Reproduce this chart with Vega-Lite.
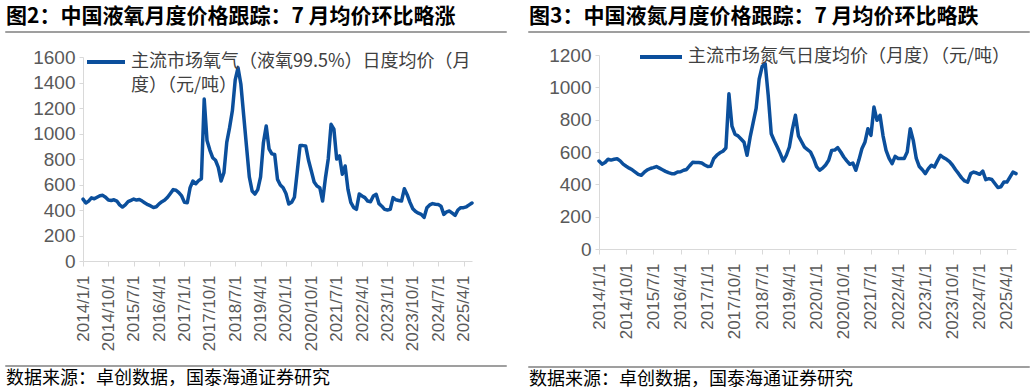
{
  "$schema": "https://vega.github.io/schema/vega-lite/v6.json",
  "background": "white",
  "datasets": {
    "p": [
      {"m":"2014/1/1","o":485,"n":544},{"m":"2014/2/1","o":455,"n":525},{"m":"2014/3/1","o":470,"n":535},{"m":"2014/4/1","o":495,"n":555},{"m":"2014/5/1","o":488,"n":550},{"m":"2014/6/1","o":500,"n":555},{"m":"2014/7/1","o":512,"n":558},{"m":"2014/8/1","o":515,"n":545},{"m":"2014/9/1","o":500,"n":525},{"m":"2014/10/1","o":478,"n":512},{"m":"2014/11/1","o":475,"n":500},{"m":"2014/12/1","o":480,"n":490},
      {"m":"2015/1/1","o":470,"n":476},{"m":"2015/2/1","o":440,"n":462},{"m":"2015/3/1","o":423,"n":456},{"m":"2015/4/1","o":440,"n":475},{"m":"2015/5/1","o":465,"n":490},{"m":"2015/6/1","o":475,"n":498},{"m":"2015/7/1","o":486,"n":503},{"m":"2015/8/1","o":478,"n":510},{"m":"2015/9/1","o":482,"n":500},{"m":"2015/10/1","o":470,"n":490},{"m":"2015/11/1","o":455,"n":480},{"m":"2015/12/1","o":442,"n":472},
      {"m":"2016/1/1","o":432,"n":466},{"m":"2016/2/1","o":420,"n":466},{"m":"2016/3/1","o":425,"n":476},{"m":"2016/4/1","o":448,"n":478},{"m":"2016/5/1","o":465,"n":487},{"m":"2016/6/1","o":478,"n":492},{"m":"2016/7/1","o":500,"n":515},{"m":"2016/8/1","o":530,"n":536},{"m":"2016/9/1","o":560,"n":535},{"m":"2016/10/1","o":555,"n":535},{"m":"2016/11/1","o":536,"n":532},{"m":"2016/12/1","o":510,"n":520},
      {"m":"2017/1/1","o":460,"n":510},{"m":"2017/2/1","o":457,"n":512},{"m":"2017/3/1","o":575,"n":560},{"m":"2017/4/1","o":627,"n":580},{"m":"2017/5/1","o":606,"n":595},{"m":"2017/6/1","o":630,"n":605},{"m":"2017/7/1","o":645,"n":625},{"m":"2017/8/1","o":1270,"n":960},{"m":"2017/9/1","o":945,"n":760},{"m":"2017/10/1","o":870,"n":710},{"m":"2017/11/1","o":810,"n":700},{"m":"2017/12/1","o":790,"n":680},
      {"m":"2018/1/1","o":735,"n":660},{"m":"2018/2/1","o":627,"n":580},{"m":"2018/3/1","o":693,"n":690},{"m":"2018/4/1","o":930,"n":780},{"m":"2018/5/1","o":1046,"n":870},{"m":"2018/6/1","o":1180,"n":1050},{"m":"2018/7/1","o":1420,"n":1130},{"m":"2018/8/1","o":1516,"n":1146},{"m":"2018/9/1","o":1388,"n":950},{"m":"2018/10/1","o":1143,"n":713},{"m":"2018/11/1","o":900,"n":670},{"m":"2018/12/1","o":660,"n":631},
      {"m":"2019/1/1","o":549,"n":590},{"m":"2019/2/1","o":525,"n":544},{"m":"2019/3/1","o":560,"n":580},{"m":"2019/4/1","o":660,"n":631},{"m":"2019/5/1","o":928,"n":740},{"m":"2019/6/1","o":1059,"n":827},{"m":"2019/7/1","o":880,"n":700},{"m":"2019/8/1","o":840,"n":665},{"m":"2019/9/1","o":835,"n":630},{"m":"2019/10/1","o":640,"n":615},{"m":"2019/11/1","o":596,"n":600},{"m":"2019/12/1","o":575,"n":560},
      {"m":"2020/1/1","o":530,"n":510},{"m":"2020/2/1","o":447,"n":487},{"m":"2020/3/1","o":460,"n":500},{"m":"2020/4/1","o":500,"n":520},{"m":"2020/5/1","o":700,"n":549},{"m":"2020/6/1","o":905,"n":610},{"m":"2020/7/1","o":905,"n":612},{"m":"2020/8/1","o":902,"n":627},{"m":"2020/9/1","o":790,"n":600},{"m":"2020/10/1","o":706,"n":569},{"m":"2020/11/1","o":620,"n":545},{"m":"2020/12/1","o":588,"n":524},
      {"m":"2021/1/1","o":575,"n":532},{"m":"2021/2/1","o":470,"n":487},{"m":"2021/3/1","o":650,"n":550},{"m":"2021/4/1","o":800,"n":620},{"m":"2021/5/1","o":1072,"n":660},{"m":"2021/6/1","o":1035,"n":744},{"m":"2021/7/1","o":800,"n":703},{"m":"2021/8/1","o":824,"n":878},{"m":"2021/9/1","o":680,"n":796},{"m":"2021/10/1","o":745,"n":827},{"m":"2021/11/1","o":562,"n":700},{"m":"2021/12/1","o":460,"n":610},
      {"m":"2022/1/1","o":420,"n":560},{"m":"2022/2/1","o":405,"n":528},{"m":"2022/3/1","o":525,"n":573},{"m":"2022/4/1","o":510,"n":560},{"m":"2022/5/1","o":497,"n":560},{"m":"2022/6/1","o":470,"n":560},{"m":"2022/7/1","o":465,"n":600},{"m":"2022/8/1","o":510,"n":744},{"m":"2022/9/1","o":523,"n":672},{"m":"2022/10/1","o":450,"n":560},{"m":"2022/11/1","o":430,"n":510},{"m":"2022/12/1","o":405,"n":490},
      {"m":"2023/1/1","o":400,"n":466},{"m":"2023/2/1","o":405,"n":497},{"m":"2023/3/1","o":497,"n":518},{"m":"2023/4/1","o":480,"n":507},{"m":"2023/5/1","o":475,"n":545},{"m":"2023/6/1","o":470,"n":579},{"m":"2023/7/1","o":567,"n":565},{"m":"2023/8/1","o":520,"n":555},{"m":"2023/9/1","o":460,"n":540},{"m":"2023/10/1","o":410,"n":518},{"m":"2023/11/1","o":388,"n":490},{"m":"2023/12/1","o":375,"n":466},
      {"m":"2024/1/1","o":366,"n":440},{"m":"2024/2/1","o":342,"n":421},{"m":"2024/3/1","o":418,"n":414},{"m":"2024/4/1","o":440,"n":466},{"m":"2024/5/1","o":450,"n":476},{"m":"2024/6/1","o":445,"n":470},{"m":"2024/7/1","o":444,"n":462},{"m":"2024/8/1","o":430,"n":482},{"m":"2024/9/1","o":366,"n":429},{"m":"2024/10/1","o":385,"n":435},{"m":"2024/11/1","o":392,"n":430},{"m":"2024/12/1","o":375,"n":405},
      {"m":"2025/1/1","o":358,"n":380},{"m":"2025/2/1","o":400,"n":385},{"m":"2025/3/1","o":418,"n":414},{"m":"2025/4/1","o":418,"n":414},{"m":"2025/5/1","o":425,"n":445},{"m":"2025/6/1","o":440,"n":476},{"m":"2025/7/1","o":455,"n":466}
    ]
  },
  "config": {
    "view": {"stroke": null},
    "font": "Liberation Sans",
    "style": {"guide-label": {"lineHeight": 24}}
  },
  "spacing": 21,
  "resolve": {"scale": {"x": "independent", "y": "independent", "color": "independent"}, "legend": {"color": "independent"}},
  "hconcat": [
    {
      "spacing": 15,
      "vconcat": [
        {
          "width": 500, "height": 0.01,
          "data": {"values": []},
          "mark": "rule", "encoding": {},
          "view": {"stroke": "#7f7f7f", "strokeWidth": 1.5},
          "title": {"text": "图2：中国液氧月度价格跟踪：7 月均价环比略涨", "anchor": "start", "frame": "group", "fontSize": 21, "fontWeight": "bold", "font": "Noto Sans CJK SC", "color": "#000000", "offset": 5}
        },
        {
          "spacing": 14,
          "vconcat": [
            {
              "spacing": 0,
              "hconcat": [
                {"width": 0.01, "height": 0.01, "data": {"values": []}, "mark": "rule", "encoding": {}},
                {
                  "width": 389, "height": 204,
                  "data": {"name": "p"},
                  "mark": {"type": "line", "strokeWidth": 3.5, "strokeJoin": "round", "strokeCap": "round"},
                  "encoding": {
                    "x": {"field": "m", "type": "ordinal", "sort": null, "scale": {"type": "point", "padding": 0},
                      "axis": {"values": ["2014/1/1","2014/10/1","2015/7/1","2016/4/1","2017/1/1","2017/10/1","2018/7/1","2019/4/1","2020/1/1","2020/10/1","2021/7/1","2022/4/1","2023/1/1","2023/10/1","2024/7/1","2025/4/1"],
                        "labelAngle": -90, "title": null, "domainColor": "#d9d9d9", "tickColor": "#d9d9d9", "tickSize": 5, "labelFontSize": 17, "labelColor": "#595959", "labelPadding": 9, "labelOverlap": false, "grid": false}},
                    "y": {"field": "o", "type": "quantitative", "scale": {"domain": [0, 1600], "nice": false},
                      "axis": {"values": [0,200,400,600,800,1000,1200,1400,1600], "format": "d", "title": null, "grid": false, "domainColor": "#d9d9d9", "tickColor": "#d9d9d9", "tickSize": 4, "labelFontSize": 19, "labelColor": "#595959", "labelPadding": 4, "minExtent": 76}},
                    "color": {"datum": "主流市场氧气（液氧99.5%）日度均价（月度）（元/吨）", "scale": {"range": ["#0b4f9c"]},
                      "legend": {"orient": "none", "legendX": 79, "legendY": 9, "title": null, "symbolType": "stroke", "symbolStrokeWidth": 4, "symbolSize": 1444, "labelFontSize": 18, "labelFont": "Noto Sans CJK SC", "labelColor": "#404040", "labelLimit": 1000, "labelOffset": 4, "padding": 0,
                        "labelExpr": "['主流市场氧气（液氧99.5%）日度均价（月', '度）（元/吨）']"}}
                  }
                }
              ]
            },
            {
              "width": 500, "height": 0.01,
              "data": {"values": []},
              "mark": "rule", "encoding": {},
              "view": {"stroke": "#7f7f7f", "strokeWidth": 1.5},
              "title": {"text": "数据来源：卓创数据，国泰海通证券研究", "orient": "bottom", "anchor": "start", "frame": "group", "fontSize": 18, "fontWeight": "normal", "font": "Noto Sans CJK SC", "color": "#000000", "offset": 4}
            }
          ]
        }
      ]
    },
    {
      "spacing": 13,
      "vconcat": [
        {
          "width": 500, "height": 0.01,
          "data": {"values": []},
          "mark": "rule", "encoding": {},
          "view": {"stroke": "#7f7f7f", "strokeWidth": 1.5},
          "title": {"text": "图3：中国液氮月度价格跟踪：7 月均价环比略跌", "anchor": "start", "frame": "group", "fontSize": 21, "fontWeight": "bold", "font": "Noto Sans CJK SC", "color": "#000000", "offset": 5}
        },
        {
          "spacing": 27,
          "vconcat": [
            {
              "spacing": 0,
              "hconcat": [
                {"width": 0.01, "height": 0.01, "data": {"values": []}, "mark": "rule", "encoding": {}},
                {
                  "width": 417, "height": 194,
                  "data": {"name": "p"},
                  "mark": {"type": "line", "strokeWidth": 3.5, "strokeJoin": "round", "strokeCap": "round"},
                  "encoding": {
                    "x": {"field": "m", "type": "ordinal", "sort": null, "scale": {"type": "point", "padding": 0},
                      "axis": {"values": ["2014/1/1","2014/10/1","2015/7/1","2016/4/1","2017/1/1","2017/10/1","2018/7/1","2019/4/1","2020/1/1","2020/10/1","2021/7/1","2022/4/1","2023/1/1","2023/10/1","2024/7/1","2025/4/1"],
                        "labelAngle": -90, "title": null, "domainColor": "#d9d9d9", "tickColor": "#d9d9d9", "tickSize": 5, "labelFontSize": 17, "labelColor": "#595959", "labelPadding": 9, "labelOverlap": false, "grid": false}},
                    "y": {"field": "n", "type": "quantitative", "scale": {"domain": [0, 1200], "nice": false},
                      "axis": {"values": [0,200,400,600,800,1000,1200], "format": "d", "title": null, "grid": false, "domainColor": "#d9d9d9", "tickColor": "#d9d9d9", "tickSize": 4, "labelFontSize": 19, "labelColor": "#595959", "labelPadding": 4, "minExtent": 69}},
                    "color": {"datum": "主流市场氮气日度均价（月度）（元/吨）", "scale": {"range": ["#0b4f9c"]},
                      "legend": {"orient": "none", "legendX": 109, "legendY": 2, "title": null, "symbolType": "stroke", "symbolStrokeWidth": 4, "symbolSize": 1764, "labelFontSize": 18, "labelFont": "Noto Sans CJK SC", "labelColor": "#404040", "labelLimit": 1000, "labelOffset": 4, "padding": 0}}
                  }
                }
              ]
            },
            {
              "width": 500, "height": 0.01,
              "data": {"values": []},
              "mark": "rule", "encoding": {},
              "view": {"stroke": "#7f7f7f", "strokeWidth": 1.5},
              "title": {"text": "数据来源：卓创数据，国泰海通证券研究", "orient": "bottom", "anchor": "start", "frame": "group", "fontSize": 18, "fontWeight": "normal", "font": "Noto Sans CJK SC", "color": "#000000", "offset": 4}
            }
          ]
        }
      ]
    }
  ]
}
